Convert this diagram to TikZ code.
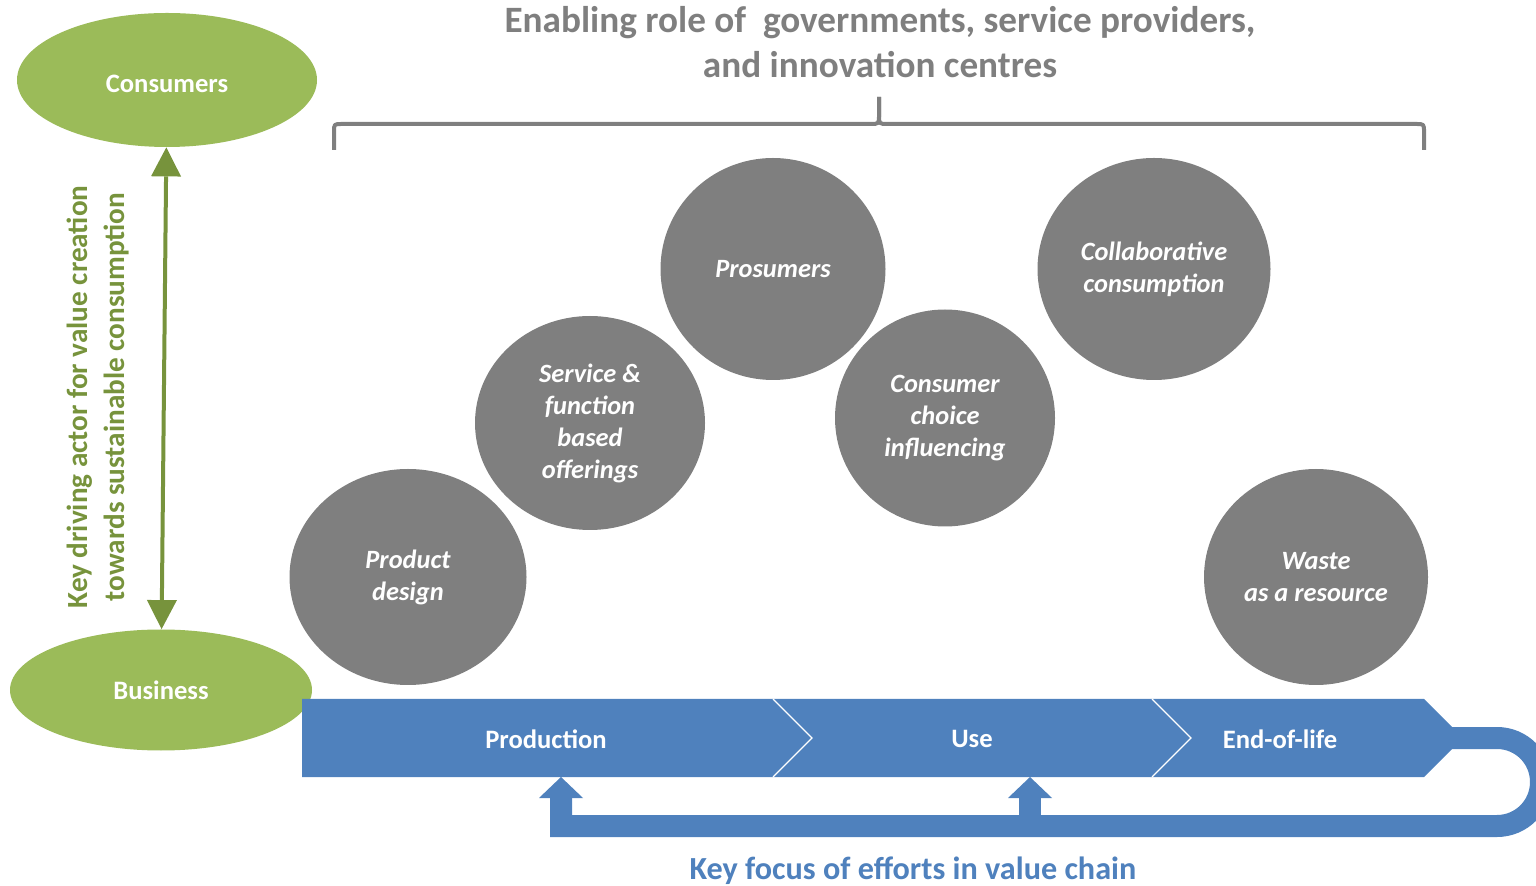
\documentclass[tikz,border=0pt]{standalone}
\usepackage{fontspec}
\setmainfont{Carlito}
\usetikzlibrary{shapes.geometric,arrows.meta}
\definecolor{leafgreen}{HTML}{9BBB59}
\definecolor{darkgreen}{HTML}{77933C}
\definecolor{idgray}{HTML}{7F7F7F}
\definecolor{chainblue}{HTML}{4F81BD}

\begin{document}
\begin{tikzpicture}[x=0.5pt,y=-0.5pt,
    actor/.style={ellipse, fill=leafgreen, text=white, inner sep=0pt,
        font=\bfseries\fontsize{13.3}{15}\selectfont},
    idea/.style={ellipse, fill=idgray, text=white, inner sep=0pt, align=center,
        font=\bfseries\itshape\fontsize{13.2}{16}\selectfont},
    stagetext/.style={text=white, font=\bfseries\fontsize{13.3}{15}\selectfont},
    loopband/.style={draw=chainblue, line width=11pt},
    headup/.style={-{Triangle[width=22pt,length=10.5pt,line width=0pt]}},
    brace/.style={draw=idgray, line width=2pt, line join=round}]
    \useasboundingbox (0,0) rectangle (1536,886);
    \clip (0,0) rectangle (1536,886);

    % actors
    \node[actor, minimum width=150pt, minimum height=67pt, text height=13pt] at (167,80) (cons) {Consumers};
    \node[actor, minimum width=151pt, minimum height=60.5pt] at (161,690) (bus) {Business};
    \draw[darkgreen, line width=2pt,
        {Triangle[width=15pt,length=14.5pt,line width=0pt]}-{Triangle[width=15pt,length=14.5pt,line width=0pt]}]
        (cons) -- (bus);
    \node[rotate=90, text=darkgreen, align=center, font=\bfseries\fontsize{14.6}{18.5}\selectfont]
        at (98,397) (drive) {Key driving actor for value creation\\towards sustainable consumption};

    % enabling role
    \node[text=idgray, align=center, font=\bfseries\fontsize{18.6}{22.5}\selectfont]
        at (880,42) (role) {Enabling role of~ governments, service providers,\\and innovation centres};
    \coordinate (tip) at (879,97);
    \draw[brace] (334,150) -- (334,132) .. controls (334,124) .. (342,124) -- (870,124)
        .. controls (879,124) .. (879,115) -- (tip);
    \draw[brace] (tip) -- (879,115) .. controls (879,124) .. (888,124) -- (1416,124)
        .. controls (1424,124) .. (1424,132) -- (1424,150);

    % ideas
    \node[idea, minimum width=118.5pt, minimum height=108pt] at (408,577) (pd) {Product\\design};
    \node[idea, minimum width=115pt, minimum height=107pt] at (590,423) (sf) {Service \&\\function\\based\\offerings};
    \node[idea, minimum width=112.5pt, minimum height=111pt] at (773,269) (pro) {Prosumers};
    \node[idea, minimum width=110pt, minimum height=108.5pt] at (945,418) (cc) {Consumer\\choice\\influencing};
    \node[idea, minimum width=116.5pt, minimum height=111pt] at (1154,269) (col) {Collaborative\\consumption};
    \node[idea, minimum width=112pt, minimum height=108pt] at (1316,577) (wr) {Waste\\as a resource};

    % value chain
    \fill[chainblue] (302,699) -- (1424,699) -- (1463,738) -- (1424,777) -- (302,777) -- cycle;
    \draw[white, line width=0.6pt] (773,699) -- (812,738) -- (773,777);
    \draw[white, line width=0.6pt] (1152,699) -- (1191,738) -- (1152,777);
    \node[stagetext] at (546,739) (prod) {Production};
    \node[stagetext] at (972,739) (use) {Use};
    \node[stagetext] at (1280,739) (eol) {End-of-life};

    \coordinate (loopstart) at (1440,738);
    \coordinate (toprod) at (561,777);
    \coordinate (touse) at (1030,777);
    \draw[loopband, headup] (loopstart) -- (1497,738) arc[start angle=-90, end angle=90, radius=44]
        -- (561,826) -- (toprod);
    \draw[loopband, headup] (1030,826) -- (touse);
    \node[text=chainblue, font=\bfseries\fontsize{16.1}{18}\selectfont] at (913,871) (focus)
        {Key focus of efforts in value chain};
\end{tikzpicture}
\end{document}
